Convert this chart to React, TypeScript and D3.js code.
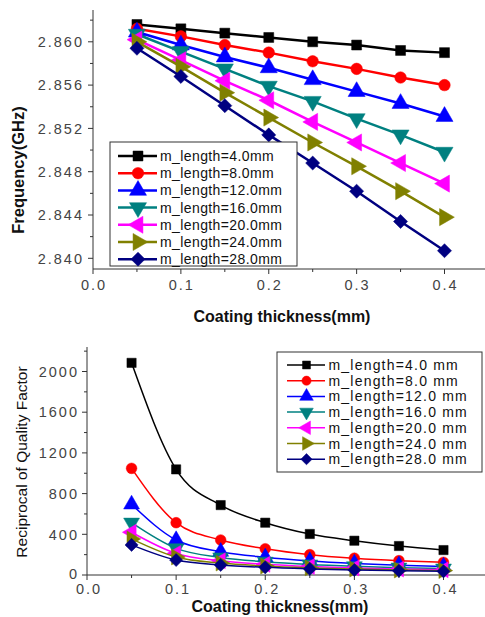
import React from 'react';
import * as d3 from 'd3';

const thickness = [0.05, 0.1, 0.15, 0.2, 0.25, 0.3, 0.35, 0.4];

const seriesColors = ['#000000', '#ff0000', '#0000ff', '#008080', '#ff00ff', '#808000', '#000080'];
const markerShapes = ['square', 'circle', 'up', 'down', 'left', 'right', 'diamond'];

const topLabels = ['m_length=4.0mm', 'm_length=8.0mm', 'm_length=12.0mm', 'm_length=16.0mm', 'm_length=20.0mm', 'm_length=24.0mm', 'm_length=28.0mm'];
const bottomLabels = ['m_length=4.0 mm', 'm_length=8.0 mm', 'm_length=12.0 mm', 'm_length=16.0 mm', 'm_length=20.0 mm', 'm_length=24.0 mm', 'm_length=28.0 mm'];

const freq4 = [2.8616, 2.8612, 2.8608, 2.8604, 2.86, 2.8597, 2.8592, 2.859];
const freq8 = [2.8612, 2.8605, 2.8597, 2.859, 2.8582, 2.8575, 2.8567, 2.856];
const freq12 = [2.8609, 2.8597, 2.8586, 2.8576, 2.8565, 2.8554, 2.8543, 2.8531];
const freq16 = [2.8607, 2.8591, 2.8575, 2.8559, 2.8545, 2.8529, 2.8514, 2.8498];
const freq20 = [2.8602, 2.8583, 2.8564, 2.8546, 2.8526, 2.8507, 2.8488, 2.8469];
const freq24 = [2.86, 2.8577, 2.8553, 2.853, 2.8507, 2.8485, 2.8462, 2.8438];
const freq28 = [2.8594, 2.8568, 2.8541, 2.8514, 2.8488, 2.8462, 2.8434, 2.8407];
const freqSeries = [freq4, freq8, freq12, freq16, freq20, freq24, freq28];

const q4 = [2085, 1038, 687, 514, 403, 337, 285, 245];
const q8 = [1048, 514, 344, 258, 200, 165, 141, 125];
const q12 = [694, 344, 229, 174, 138, 114, 97, 84];
const q16 = [514, 262, 172, 130, 103, 85, 72, 63];
const q20 = [420, 212, 140, 105, 83, 69, 58, 51];
const q24 = [355, 177, 117, 88, 70, 58, 49, 43];
const q28 = [296, 147, 99, 75, 60, 49, 42, 36];
const qSeries = [q4, q8, q12, q16, q20, q24, q28];

const topYTicks = [2.84, 2.844, 2.848, 2.852, 2.856, 2.86];
const topYMinor = [2.842, 2.846, 2.85, 2.854, 2.858, 2.862];
const xTicks = [0, 0.1, 0.2, 0.3, 0.4];
const xMinor = [0.05, 0.15, 0.25, 0.35];
const botYTicks = [0, 400, 800, 1200, 1600, 2000];
const botYMinor = [200, 600, 1000, 1400, 1800, 2200];

const FONT = "'Liberation Sans', Arial, sans-serif";

function Marker({ shape, x, y, size, color }: { shape: string; x: number; y: number; size: number; color: string }) {
  let type: any = d3.symbolSquare;
  let rot = 0;
  if (shape === 'circle') type = d3.symbolCircle;
  else if (shape === 'up') type = d3.symbolTriangle;
  else if (shape === 'down') { type = d3.symbolTriangle; rot = 180; }
  else if (shape === 'left') { type = d3.symbolTriangle; rot = -90; }
  else if (shape === 'right') { type = d3.symbolTriangle; rot = 90; }
  else if (shape === 'diamond') { type = d3.symbolSquare; rot = 45; }
  const s = shape === 'circle' ? size * 0.95 : shape === 'square' || shape === 'diamond' ? size * 0.9 : size * 1.15;
  const d = d3.symbol().type(type).size(s)() as string;
  return <path d={d} transform={`translate(${x},${y}) rotate(${rot})`} fill={color} stroke={color} strokeWidth={0.5} />;
}

function fmt3(v: number) { return v.toFixed(3); }

export default function App() {
  // top chart scales
  const tx = d3.scaleLinear().domain([0, 0.4]).range([93, 444.5]);
  const ty = d3.scaleLinear().domain([2.84, 2.86]).range([258.3, 41.8]);
  const topAxisY = 269;
  const topAxisTop = 10;
  // bottom chart scales
  const bx = d3.scaleLinear().domain([0, 0.4]).range([87, 443.5]);
  const by = d3.scaleLinear().domain([0, 2000]).range([575, 371.5]);
  const botAxisY = 575;
  const botAxisTop = 347;

  const topLine = d3.line<number>().x((_, i) => tx(thickness[i])).y((d) => ty(d));
  const botLine = d3.line<number>().x((_, i) => bx(thickness[i])).y((d) => by(d)).curve(d3.curveMonotoneX);

  const tickText = { fontFamily: FONT, fontSize: 14.5, fill: '#444', letterSpacing: 2 } as any;

  return (
    <svg width={485} height={617} style={{ position: 'absolute', left: 0, top: 0, background: '#fff' }}>
      <rect x={0} y={0} width={485} height={617} fill="#fff" />
      {/* ===== TOP CHART ===== */}
      <g>
        <line x1={tx(0)} x2={485} y1={topAxisY} y2={topAxisY} stroke="#333" strokeWidth={1} />
        <line x1={tx(0)} x2={tx(0)} y1={topAxisTop} y2={topAxisY} stroke="#333" strokeWidth={1} />
        {topYTicks.map((t) => (
          <g key={'tyt' + t}>
            <line x1={tx(0) - 5} x2={tx(0)} y1={ty(t)} y2={ty(t)} stroke="#333" />
            <text x={84} y={ty(t)} dy="0.36em" textAnchor="end" style={tickText}>{fmt3(t)}</text>
          </g>
        ))}
        {topYMinor.map((t) => (
          <line key={'tym' + t} x1={tx(0) - 3} x2={tx(0)} y1={ty(t)} y2={ty(t)} stroke="#333" />
        ))}
        {xTicks.map((t) => (
          <g key={'txt' + t}>
            <line x1={tx(t)} x2={tx(t)} y1={topAxisY} y2={topAxisY + 5} stroke="#333" />
            <text x={tx(t) + 1} y={290} textAnchor="middle" style={tickText}>{t.toFixed(1)}</text>
          </g>
        ))}
        {xMinor.map((t) => (
          <line key={'txm' + t} x1={tx(t)} x2={tx(t)} y1={topAxisY} y2={topAxisY + 3} stroke="#333" />
        ))}
        {freqSeries.map((s, k) => (
          <g key={'ts' + k}>
            <path d={topLine(s) as string} fill="none" stroke={seriesColors[k]} strokeWidth={2.5} />
            {s.map((v, i) => (
              <Marker key={i} shape={markerShapes[k]} x={tx(thickness[i])} y={ty(v)} size={110} color={seriesColors[k]} />
            ))}
          </g>
        ))}
        {/* legend */}
        <rect x={110} y={142} width={187} height={124} fill="#fff" stroke="#333" strokeWidth={1} />
        {topLabels.map((l, k) => {
          const yy = 156 + k * 17.2;
          return (
            <g key={'tl' + k}>
              <line x1={118} x2={157} y1={yy} y2={yy} stroke={seriesColors[k]} strokeWidth={2.5} />
              <Marker shape={markerShapes[k]} x={138} y={yy} size={110} color={seriesColors[k]} />
              <text x={160} y={yy} dy="0.36em" style={{ fontFamily: FONT, fontSize: 14, fill: '#111', letterSpacing: 0.4 } as any}>{l}</text>
            </g>
          );
        })}
        <text x={24} y={170} transform="rotate(-90 24 170)" textAnchor="middle" style={{ fontFamily: FONT, fontSize: 16.5, fontWeight: 'bold', fill: '#111' }}>Frequency(GHz)</text>
        <text x={282} y={322} textAnchor="middle" style={{ fontFamily: FONT, fontSize: 16, fontWeight: 'bold', fill: '#111' }}>Coating thickness(mm)</text>
      </g>

      {/* ===== BOTTOM CHART ===== */}
      <g>
        <line x1={bx(0)} x2={485} y1={botAxisY} y2={botAxisY} stroke="#333" strokeWidth={1} />
        <line x1={bx(0)} x2={bx(0)} y1={botAxisTop} y2={botAxisY} stroke="#333" strokeWidth={1} />
        {botYTicks.map((t) => (
          <g key={'byt' + t}>
            <line x1={bx(0) - 5} x2={bx(0)} y1={by(t)} y2={by(t)} stroke="#333" />
            <text x={79} y={by(t)} dy={t === 0 ? '0.3em' : '0.36em'} textAnchor="end" style={tickText}>{t}</text>
          </g>
        ))}
        {botYMinor.map((t) => (
          <line key={'bym' + t} x1={bx(0) - 3} x2={bx(0)} y1={by(t)} y2={by(t)} stroke="#333" />
        ))}
        {xTicks.map((t) => (
          <g key={'bxt' + t}>
            <line x1={bx(t)} x2={bx(t)} y1={botAxisY} y2={botAxisY + 5} stroke="#333" />
            <text x={bx(t) + 2} y={594} textAnchor="middle" style={tickText}>{t.toFixed(1)}</text>
          </g>
        ))}
        {xMinor.map((t) => (
          <line key={'bxm' + t} x1={bx(t)} x2={bx(t)} y1={botAxisY} y2={botAxisY + 3} stroke="#333" />
        ))}
        {qSeries.map((s, k) => (
          <g key={'bs' + k}>
            <path d={botLine(s) as string} fill="none" stroke={seriesColors[k]} strokeWidth={1.5} />
            {s.map((v, i) => (
              <Marker key={i} shape={markerShapes[k]} x={bx(thickness[i])} y={by(v)} size={95} color={seriesColors[k]} />
            ))}
          </g>
        ))}
        {/* legend */}
        <rect x={277} y={352} width={205} height={120} fill="#fff" stroke="#333" strokeWidth={1} />
        {bottomLabels.map((l, k) => {
          const yy = 365 + k * 15.7;
          return (
            <g key={'bl' + k}>
              <line x1={287} x2={325} y1={yy} y2={yy} stroke={seriesColors[k]} strokeWidth={1.5} />
              <Marker shape={markerShapes[k]} x={306.5} y={yy} size={70} color={seriesColors[k]} />
              <text x={328.5} y={yy} dy="0.36em" style={{ fontFamily: FONT, fontSize: 14, fill: '#111', letterSpacing: 1.2 } as any}>{l}</text>
            </g>
          );
        })}
        <text x={27} y={462} transform="rotate(-90 27 462)" textAnchor="middle" style={{ fontFamily: FONT, fontSize: 15.5, fill: '#111' }}>Reciprocal of Quality Factor</text>
        <text x={280} y={611.5} textAnchor="middle" style={{ fontFamily: FONT, fontSize: 16, fontWeight: 'bold', fill: '#111' }}>Coating thickness(mm)</text>
      </g>
    </svg>
  );
}
